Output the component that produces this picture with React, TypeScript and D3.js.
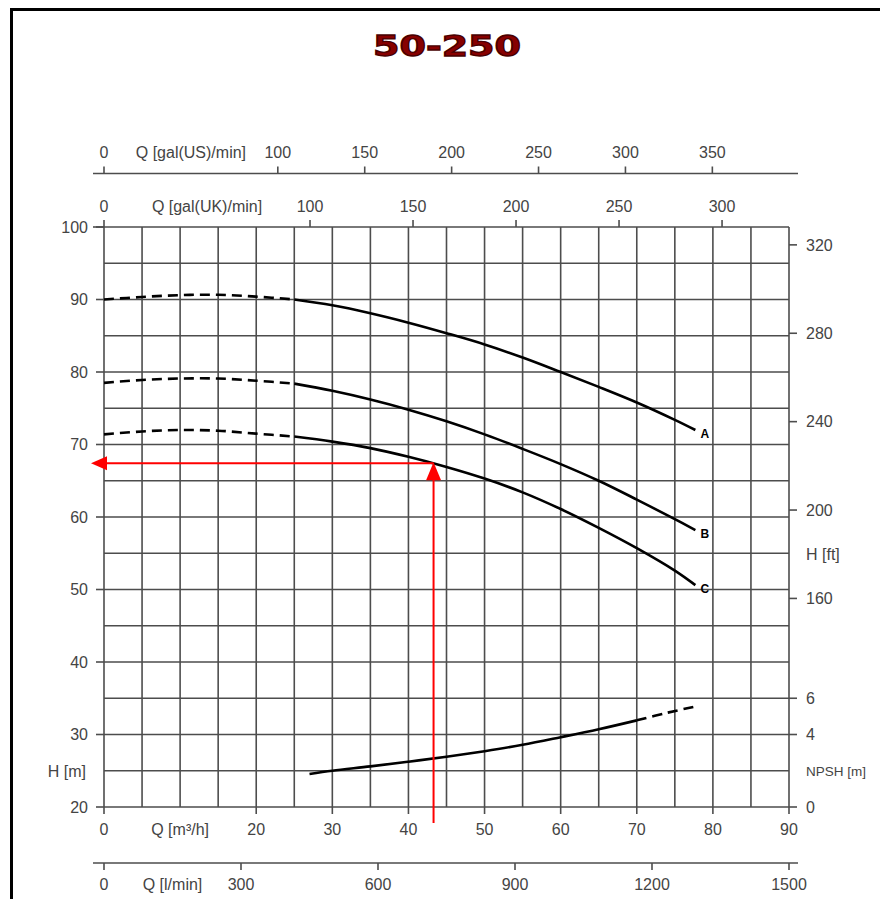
import React, { useEffect, useRef } from 'react';
import * as d3 from 'd3';

// head curves (solid part), Q in m3/h, H in m
const flowSolid = [25, 30, 35, 40, 45, 50, 55, 60, 65, 70, 75, 77.7];
const headA = [90.0, 89.2, 88.1, 86.8, 85.35, 83.8, 82.0, 80.0, 77.95, 75.8, 73.4, 72.0];
const headB = [78.4, 77.4, 76.2, 74.8, 73.2, 71.4, 69.4, 67.3, 65.0, 62.4, 59.7, 58.2];
const headC = [71.1, 70.4, 69.5, 68.3, 66.9, 65.3, 63.4, 61.1, 58.5, 55.7, 52.6, 50.6];

// dashed (low flow) part
const flowDashed = [0, 5, 10, 15, 20, 25];
const headADashed = [90.0, 90.35, 90.6, 90.65, 90.4, 90.0];
const headBDashed = [78.5, 78.9, 79.1, 79.1, 78.8, 78.4];
const headCDashed = [71.4, 71.8, 72.0, 71.9, 71.5, 71.1];

const curveNames = ['A', 'B', 'C'];

// NPSH
const npshFlow = [27, 30, 35, 40, 45, 50, 55, 60, 65, 70];
const npshValues = [1.82, 2.0, 2.24, 2.5, 2.77, 3.08, 3.43, 3.85, 4.29, 4.78];
const npshFlowDashed = [70, 74, 78];
const npshDashed = [4.78, 5.2, 5.57];

// duty point
const dutyQ = 43.3;
const dutyH = 67.4;

// ticks
const m3hTicks = [0, 20, 30, 40, 50, 60, 70, 80, 90];
const lminTicks = [0, 300, 600, 900, 1200, 1500];
const usTicks = [0, 100, 150, 200, 250, 300, 350];
const ukTicks = [0, 100, 150, 200, 250, 300];
const hTicks = [20, 30, 40, 50, 60, 70, 80, 90, 100];
const ftTicks = [160, 200, 240, 280, 320];
const npshTicks = [0, 4, 6];

const PumpChart = () => {
  const svgRef = useRef<SVGSVGElement>(null);

  useEffect(() => {
    const svg = d3.select(svgRef.current);
    svg.selectAll('*').remove();

    const left = 104, right = 789, top = 227, bottom = 807;
    const font = "'Liberation Sans', Arial, sans-serif";
    const textCol = '#444';
    const gridCol = '#4d4d4d';

    const x = d3.scaleLinear().domain([0, 90]).range([left, right]);
    const y = d3.scaleLinear().domain([20, 100]).range([bottom, top]);
    const yFt = d3.scaleLinear().domain([20 * 3.28084, 100 * 3.28084]).range([bottom, top]);
    const yNpsh = d3.scaleLinear().domain([0, 32]).range([bottom, top]);
    const xUS = d3.scaleLinear().domain([0, 394.1]).range([left, right]);
    const xUK = d3.scaleLinear().domain([0, 332.5]).range([left, right]);
    const xL = d3.scaleLinear().domain([0, 1500]).range([left, right]);

    // frame
    svg.append('rect')
      .attr('x', 11.5).attr('y', 9.5)
      .attr('width', 900).attr('height', 920)
      .attr('fill', 'none').attr('stroke', '#000').attr('stroke-width', 3);

    // title
    svg.append('text')
      .attr('x', 447).attr('y', 56)
      .attr('text-anchor', 'middle')
      .attr('font-family', "'DejaVu Sans', sans-serif")
      .attr('font-weight', 'bold')
      .attr('font-size', 29)
      .attr('textLength', 148)
      .attr('lengthAdjust', 'spacingAndGlyphs')
      .attr('fill', '#870000')
      .attr('stroke', '#4a0000').attr('stroke-width', 1.3)
      .text('50-250');

    const label = (tx: number, ty: number, txt: string, anchor = 'middle', size = 16) =>
      svg.append('text')
        .attr('x', tx).attr('y', ty).attr('dy', '0.36em')
        .attr('text-anchor', anchor)
        .attr('font-family', font).attr('font-size', size)
        .attr('fill', textCol)
        .text(txt);

    // grid
    const g = svg.append('g').attr('stroke', gridCol).attr('stroke-width', 1.6);
    d3.range(0, 90.1, 5).forEach((q) => {
      g.append('line').attr('x1', x(q)).attr('x2', x(q)).attr('y1', y(20)).attr('y2', y(100));
    });
    d3.range(20, 100.1, 5).forEach((h) => {
      g.append('line').attr('x1', x(0)).attr('x2', x(90)).attr('y1', y(h)).attr('y2', y(h));
    });

    const ax = svg.append('g').attr('stroke', gridCol).attr('stroke-width', 1.6);

    // top: gal(US)
    const usY = 173.5;
    ax.append('line').attr('x1', left - 11).attr('x2', right + 9).attr('y1', usY).attr('y2', usY);
    usTicks.forEach((v) => {
      ax.append('line').attr('x1', xUS(v)).attr('x2', xUS(v)).attr('y1', usY).attr('y2', usY - 7);
      label(xUS(v), 152, String(v));
    });
    label(xUS(50), 152, 'Q [gal(US)/min]');

    // top: gal(UK) on plot top
    ax.append('line').attr('x1', left - 11).attr('x2', left).attr('y1', top).attr('y2', top);
    ukTicks.forEach((v) => {
      ax.append('line').attr('x1', xUK(v)).attr('x2', xUK(v)).attr('y1', top).attr('y2', top - 7);
      label(xUK(v), 206, String(v));
    });
    label(xUK(50), 206, 'Q [gal(UK)/min]');

    // bottom: m3/h
    m3hTicks.forEach((v) => {
      ax.append('line').attr('x1', x(v)).attr('x2', x(v)).attr('y1', bottom).attr('y2', bottom + 7);
      label(x(v), 829, String(v));
    });
    label(x(10), 829, 'Q [m³/h]');

    // bottom: l/min
    const lY = 863;
    ax.append('line').attr('x1', left - 11).attr('x2', right + 9).attr('y1', lY).attr('y2', lY);
    lminTicks.forEach((v) => {
      ax.append('line').attr('x1', xL(v)).attr('x2', xL(v)).attr('y1', lY).attr('y2', lY + 7);
      label(xL(v), 884, String(v));
    });
    label(xL(150), 884, 'Q [l/min]');

    // left: H [m]
    hTicks.forEach((v) => {
      ax.append('line').attr('x1', left - 8).attr('x2', left).attr('y1', y(v)).attr('y2', y(v));
      label(88, y(v), String(v), 'end');
    });
    label(86, y(25), 'H [m]', 'end');

    // right: H [ft]
    ftTicks.forEach((v) => {
      ax.append('line').attr('x1', right).attr('x2', right + 8).attr('y1', yFt(v)).attr('y2', yFt(v));
      label(806, yFt(v), String(v), 'start');
    });
    label(806, yFt(180), 'H [ft]', 'start');

    // right: NPSH
    npshTicks.forEach((v) => {
      ax.append('line').attr('x1', right).attr('x2', right + 8).attr('y1', yNpsh(v)).attr('y2', yNpsh(v));
      label(806, yNpsh(v), String(v), 'start');
    });
    label(806, yNpsh(2), 'NPSH [m]', 'start', 13.5);

    // curves
    const line = d3.line<[number, number]>()
      .x((d) => x(d[0]))
      .y((d) => y(d[1]))
      .curve(d3.curveCatmullRom.alpha(0.5));

    const solids = [headA, headB, headC];
    const dashes = [headADashed, headBDashed, headCDashed];
    solids.forEach((hs, i) => {
      const pts = flowSolid.map((q, j) => [q, hs[j]] as [number, number]);
      svg.append('path').attr('d', line(pts))
        .attr('fill', 'none').attr('stroke', '#000').attr('stroke-width', 2.6);
      const dpts = flowDashed.map((q, j) => [q, dashes[i][j]] as [number, number]);
      svg.append('path').attr('d', line(dpts))
        .attr('fill', 'none').attr('stroke', '#000').attr('stroke-width', 2.6)
        .attr('stroke-dasharray', '10,6');
      const last = pts[pts.length - 1];
      svg.append('text')
        .attr('x', x(last[0]) + 5).attr('y', y(last[1]) + 4).attr('dy', '0.36em')
        .attr('font-family', font).attr('font-weight', 'bold').attr('font-size', 12)
        .attr('fill', '#000')
        .text(curveNames[i]);
    });

    const npshLine = d3.line<[number, number]>()
      .x((d) => x(d[0]))
      .y((d) => yNpsh(d[1]))
      .curve(d3.curveCatmullRom.alpha(0.5));
    svg.append('path')
      .attr('d', npshLine(npshFlow.map((q, j) => [q, npshValues[j]] as [number, number])))
      .attr('fill', 'none').attr('stroke', '#000').attr('stroke-width', 2.6);
    svg.append('path')
      .attr('d', npshLine(npshFlowDashed.map((q, j) => [q, npshDashed[j]] as [number, number])))
      .attr('fill', 'none').attr('stroke', '#000').attr('stroke-width', 2.6)
      .attr('stroke-dasharray', '10,6');

    // duty point arrows
    const red = '#ff0000';
    const dx = x(dutyQ), dy = y(dutyH);
    svg.append('line')
      .attr('x1', left + 3).attr('x2', dx).attr('y1', dy).attr('y2', dy)
      .attr('stroke', red).attr('stroke-width', 2);
    svg.append('path')
      .attr('d', `M${left - 13},${dy} L${left + 3},${dy - 7} L${left + 3},${dy + 7} Z`)
      .attr('fill', red);
    svg.append('line')
      .attr('x1', dx).attr('x2', dx).attr('y1', bottom + 16).attr('y2', dy + 16)
      .attr('stroke', red).attr('stroke-width', 2);
    svg.append('path')
      .attr('d', `M${dx},${dy - 1} L${dx - 7.5},${dy + 17} L${dx + 7.5},${dy + 17} Z`)
      .attr('fill', red);
  }, []);

  return (
    <svg
      ref={svgRef}
      width={880}
      height={899}
      style={{ position: 'absolute', left: 0, top: 0, background: '#fff' }}
    />
  );
};

export default function App() {
  return <PumpChart />;
}
